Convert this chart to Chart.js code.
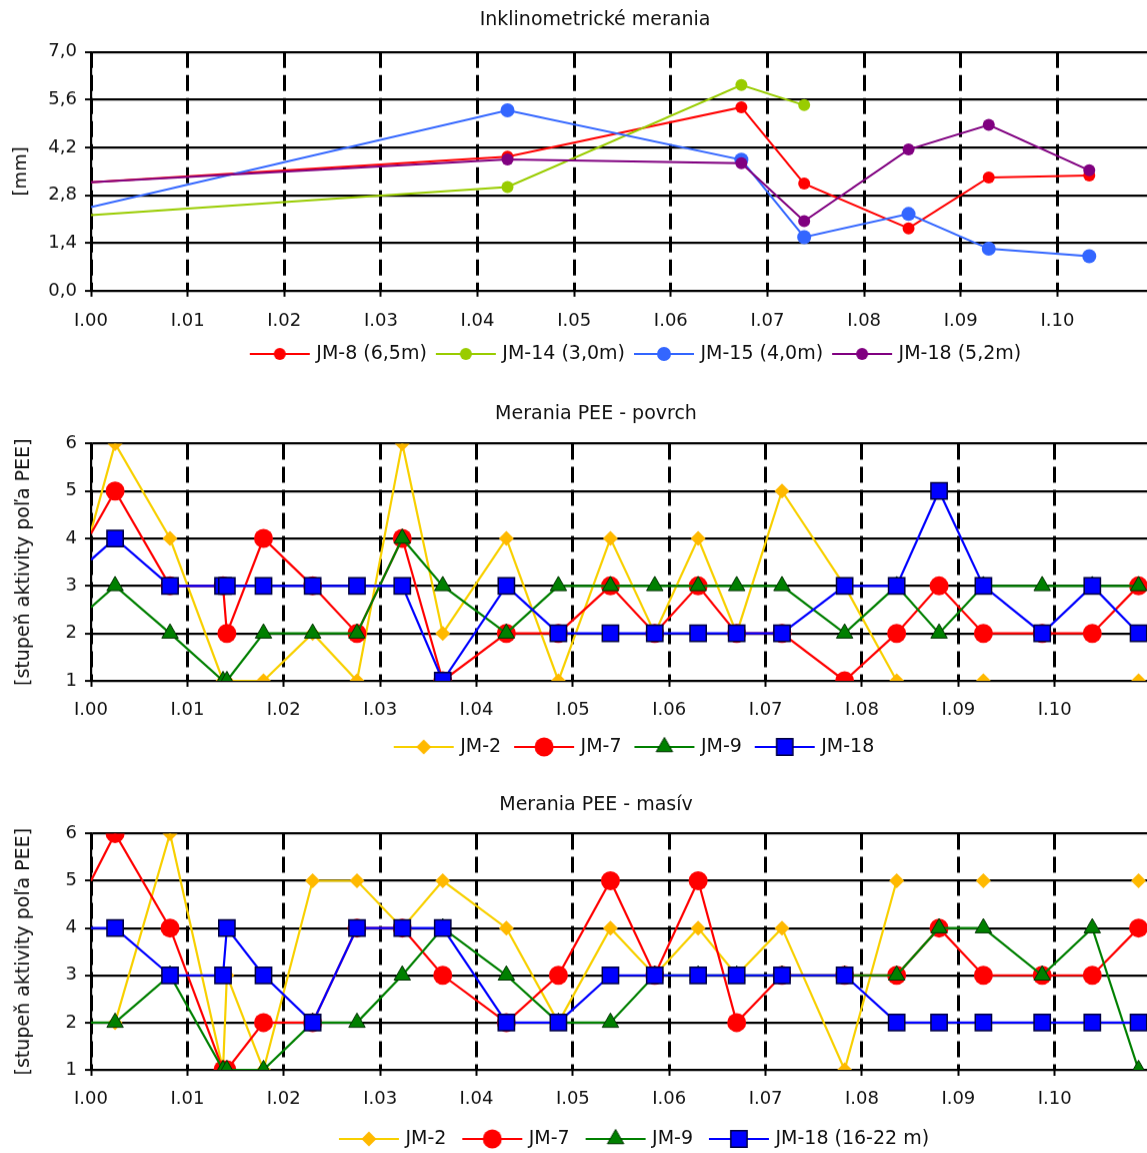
<!DOCTYPE html>
<html lang="sk">
<head>
<meta charset="utf-8">
<title>Inklinometrické merania a merania PEE</title>
<script src="https://cdn.jsdelivr.net/npm/chart.js@4.4.1/dist/chart.umd.min.js"></script>
<style>
  html, body { margin: 0; padding: 0; background: #fff; overflow: hidden; width: 1147px; height: 1153px; }
  .box { position: absolute; left: 0; width: 1193px; }
  #box1 { top: 0; height: 372.5px; }
  #box2 { top: 394px; height: 371.5px; }
  #box3 { top: 785px; height: 372.5px; }
</style>
</head>
<body>
<div class="box" id="box1"><canvas id="inkChart"></canvas></div>
<div class="box" id="box2"><canvas id="povrchChart"></canvas></div>
<div class="box" id="box3"><canvas id="masivChart"></canvas></div>
<script>
// x values are years after I.00 (tick I.01 = 1, I.02 = 2 ...)

// Inklinometrické merania [mm]
const inkDates = [4.31, 6.73, 7.38, 8.46, 9.29, 10.33];
const inkJM8   = [3.93, 5.38, 3.14, 1.83, 3.32, 3.38];
const inkJM14  = [3.04, 6.03, 5.44];
const inkJM15  = [5.29, 3.84, 1.57, 2.25, 1.23, 1.01];
const inkJM18  = [3.85, 3.74, 2.04, 4.14, 4.86, 3.53];
// where each line enters the plot at I.00 (older readings are off the chart)
const inkStart = [3.18, 2.22, 2.45, 3.18];
const inkLabels = ['JM-8 (6,5m)', 'JM-14 (3,0m)', 'JM-15 (4,0m)', 'JM-18 (5,2m)'];

// PEE measurement dates (same for both PEE charts)
const peeDates = [0.25, 0.82, 1.37, 1.41, 1.79, 2.30, 2.76, 3.23, 3.65, 4.31, 4.85, 5.39,
                  5.85, 6.30, 6.70, 7.17, 7.82, 8.36, 8.80, 9.26, 9.87, 10.39, 10.87];

// Merania PEE - povrch [stupeň aktivity]
const povrchJM2  = [6, 4, 1, 1, 1, 2, 1, 6, 2, 4, 1, 4, 2, 4, 2, 5, 3, 1, null, 1, null, null, 1];
const povrchJM7  = [5, 3, 3, 2, 4, 3, 2, 4, 1, 2, 2, 3, 2, 3, 2, 2, 1, 2, 3, 2, 2, 2, 3];
const povrchJM9  = [3, 2, 1, 1, 2, 2, 2, 4, 3, 2, 3, 3, 3, 3, 3, 3, 2, 3, 2, 3, 3, 3, 3];
const povrchJM18 = [4, 3, 3, 3, 3, 3, 3, 3, 1, 3, 2, 2, 2, 2, 2, 2, 3, 3, 5, 3, 2, 3, 2];
const povrchStart = [4.15, 4.1, 2.55, 3.55];
const povrchLabels = ['JM-2', 'JM-7', 'JM-9', 'JM-18'];

// Merania PEE - masív [stupeň aktivity]
const masivJM2  = [2, 6, 1, 3, 1, 5, 5, 4, 5, 4, 2, 4, 3, 4, 3, 4, 1, 5, null, 5, null, null, 5];
const masivJM7  = [6, 4, 1, 1, 2, 2, 4, 4, 3, 2, 3, 5, 3, 5, 2, 3, 3, 3, 4, 3, 3, 3, 4];
const masivJM9  = [2, 3, 1, 1, 1, 2, 2, 3, 4, 3, 2, 2, 3, 3, 3, 3, 3, 3, 4, 4, 3, 4, 1];
const masivJM18 = [4, 3, 3, 4, 3, 2, 4, 4, 4, 2, 2, 3, 3, 3, 3, 3, 3, 2, 2, 2, 2, 2, 2];
const masivStart = [null, 5, 2, 4];
const masivLabels = ['JM-2', 'JM-7', 'JM-9', 'JM-18 (16-22 m)'];

// series looks (last series drawn on top, as in the original)
const inkStyles = [
  { line: '#ff0000', fill: '#ff0000', shape: 'circle', r: 6, w: 2, order: 4 },
  { line: '#99cc00', fill: '#99cc00', shape: 'circle', r: 6, w: 2, order: 3 },
  { line: '#3366ff', fill: '#3366ff', shape: 'circle', r: 7, w: 2, order: 2 },
  { line: '#800080', fill: '#800080', shape: 'circle', r: 6, w: 2, order: 1 },
];
const peeStyles = [
  { line: '#f8d000', fill: '#ffb900', shape: 'rectRot', r: 7.5, w: 2.2, order: 4 },
  { line: '#ff0000', fill: '#ff0000', shape: 'circle', r: 9.5, w: 2.2, order: 3 },
  { line: '#008000', fill: '#008000', edge: '#003300', edgeW: 1, shape: 'triangle', r: 9.5, w: 2.2, order: 2 },
  { line: '#0000ff', fill: '#0000ff', edge: '#000040', edgeW: 1.5, shape: 'rect', r: 11.5, w: 2.2, order: 1 },
];

Chart.defaults.font.family = "'DejaVu Sans', sans-serif";
Chart.defaults.color = '#111';

function drawMarker(ctx, st, x, y) {
  const r = st.r;
  ctx.beginPath();
  if (st.shape === 'circle') {
    ctx.arc(x, y, r, 0, Math.PI * 2);
  } else if (st.shape === 'rect') {
    const s = r * Math.SQRT1_2;
    ctx.rect(x - s, y - s, 2 * s, 2 * s);
  } else if (st.shape === 'rectRot') {
    ctx.moveTo(x, y - r); ctx.lineTo(x + r, y); ctx.lineTo(x, y + r); ctx.lineTo(x - r, y);
    ctx.closePath();
  } else if (st.shape === 'triangle') {
    for (let k = 0; k < 3; k++) {
      const a = k * 2 * Math.PI / 3;
      const px = x + Math.sin(a) * r, py = y - Math.cos(a) * r;
      if (k === 0) ctx.moveTo(px, py); else ctx.lineTo(px, py);
    }
    ctx.closePath();
  }
  ctx.fillStyle = st.fill;
  ctx.fill();
  if (st.edgeW) { ctx.lineWidth = st.edgeW; ctx.strokeStyle = st.edge; ctx.stroke(); }
}

// legend symbol: short line with the marker in the middle
function legendIcon(st) {
  const c = document.createElement('canvas');
  c.width = 62; c.height = 26;
  const ctx = c.getContext('2d');
  ctx.strokeStyle = st.line; ctx.lineWidth = st.w;
  ctx.beginPath(); ctx.moveTo(1, 13); ctx.lineTo(61, 13); ctx.stroke();
  drawMarker(ctx, st, 31, 13);
  return c;
}

function lineSet(label, xs, ys, start, st) {
  const data = [];
  if (start !== null && start !== undefined) data.push({ x: 0, y: start });
  ys.forEach((y, i) => data.push({ x: xs[i], y: y }));
  const rad = c => (c.raw && c.raw.x === 0 ? 0 : st.r);
  return {
    label, data,
    borderColor: st.line, borderWidth: st.w, tension: 0, fill: false,
    pointStyle: st.shape,
    pointBackgroundColor: st.fill,
    pointBorderColor: st.edge || st.fill,
    pointBorderWidth: st.edgeW || 0,
    pointRadius: rad, pointHoverRadius: rad,
    order: st.order
  };
}

function makeChart(canvasId, cfg) {
  const icons = cfg.styles.map(legendIcon);
  return new Chart(document.getElementById(canvasId), {
    type: 'line',
    data: { datasets: cfg.datasets },
    options: {
      responsive: true,
      maintainAspectRatio: false,
      animation: false,
      events: [],
      layout: { padding: { left: cfg.padLeft, right: 10, top: 0, bottom: 0 } },
      plugins: {
        title: {
          display: true, text: cfg.title, color: '#111',
          font: { size: 19, weight: 'normal' },
          padding: cfg.titlePad
        },
        legend: {
          position: 'bottom',
          fullSize: false,
          labels: {
            usePointStyle: true, pointStyleWidth: 54, boxHeight: 19,
            padding: cfg.legendPad, color: '#111', font: { size: 19 },
            generateLabels: chart => chart.data.datasets.map((ds, i) => ({
              text: ds.label, datasetIndex: i, pointStyle: icons[i],
              fillStyle: 'rgba(0,0,0,0)', strokeStyle: 'rgba(0,0,0,0)', lineWidth: 0,
              hidden: false, fontColor: '#111'
            }))
          }
        },
        tooltip: { enabled: false }
      },
      scales: {
        x: {
          type: 'linear', min: 0, max: 11.3,
          afterBuildTicks: s => { s.ticks = s.ticks.filter(t => t.value <= 10); },
          // keep only the padding above the labels
          afterFit: s => { s.height = 6 + cfg.xPad + 21.6; },
          ticks: {
            stepSize: 1, autoSkip: false, maxRotation: 0, padding: cfg.xPad,
            color: '#111', font: { size: 18 },
            callback: v => 'I.' + String(v).padStart(2, '0')
          },
          grid: { color: '#000', lineWidth: 3, tickLength: 6, tickWidth: 2, tickColor: '#000' },
          border: { display: true, color: '#000', width: 2, dash: [16, 7] }
        },
        y: {
          min: cfg.yMin, max: cfg.yMax,
          afterFit: s => { s.width = 91 - cfg.padLeft; },
          ticks: { stepSize: cfg.yStep, padding: 8, color: '#111', font: { size: 18 }, callback: cfg.yFmt },
          grid: { color: '#000', lineWidth: 2.2, tickLength: 6, tickWidth: 2, tickColor: '#000' },
          border: { display: true, color: '#000', width: 2.2 },
          title: { display: true, text: cfg.yTitle, color: '#111', font: { size: cfg.yTitleSize }, padding: 4 }
        }
      }
    }
  });
}

const inkSeries = [inkJM8, inkJM14, inkJM15, inkJM18];
makeChart('inkChart', {
  title: 'Inklinometrické merania',
  yTitle: '[mm]', yTitleSize: 18,
  yMin: 0, yMax: 7, yStep: 1.4,
  yFmt: v => v.toFixed(1).replace('.', ','),
  padLeft: 7, titlePad: { top: 9, bottom: 20 }, xPad: 14, legendPad: 12,
  styles: inkStyles,
  datasets: inkSeries.map((ys, i) => lineSet(inkLabels[i], inkDates, ys, inkStart[i], inkStyles[i]))
});

const povrchSeries = [povrchJM2, povrchJM7, povrchJM9, povrchJM18];
makeChart('povrchChart', {
  title: 'Merania PEE - povrch',
  yTitle: '[stupeň aktivity poľa PEE]', yTitleSize: 19,
  yMin: 1, yMax: 6, yStep: 1,
  yFmt: v => String(v),
  padLeft: 9, titlePad: { top: 9, bottom: 17.6 }, xPad: 13, legendPad: 15.9,
  styles: peeStyles,
  datasets: povrchSeries.map((ys, i) => lineSet(povrchLabels[i], peeDates, ys, povrchStart[i], peeStyles[i]))
});

const masivSeries = [masivJM2, masivJM7, masivJM9, masivJM18];
makeChart('masivChart', {
  title: 'Merania PEE - masív',
  yTitle: '[stupeň aktivity poľa PEE]', yTitleSize: 19,
  yMin: 1, yMax: 6, yStep: 1,
  yFmt: v => String(v),
  padLeft: 9, titlePad: { top: 9, bottom: 16.6 }, xPad: 13, legendPad: 18.9,
  styles: peeStyles,
  datasets: masivSeries.map((ys, i) => lineSet(masivLabels[i], peeDates, ys, masivStart[i], peeStyles[i]))
});
</script>
</body>
</html>
